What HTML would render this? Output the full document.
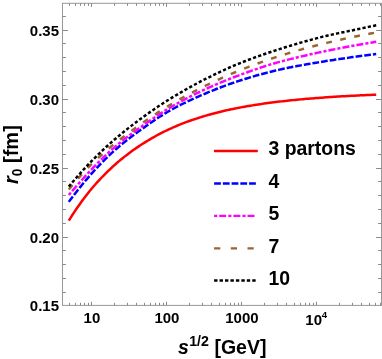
<!DOCTYPE html>
<html><head><meta charset="utf-8"><style>
html,body{margin:0;padding:0;background:#fff;}
svg{display:block;will-change:transform;font-family:"Liberation Sans",sans-serif;font-weight:bold;}
</style></head><body>
<svg width="382" height="359" viewBox="0 0 382 359">
<g fill="none" stroke-width="2.5">
<path d="M68.80,220.64 L70.73,217.55 L72.67,214.54 L74.60,211.61 L76.53,208.74 L78.47,205.95 L80.40,203.22 L82.33,200.56 L84.27,197.96 L86.20,195.43 L88.13,192.97 L90.07,190.57 L92.00,188.25 L93.93,185.99 L95.87,183.78 L97.80,181.64 L99.73,179.54 L101.67,177.50 L103.60,175.51 L105.53,173.57 L107.47,171.66 L109.40,169.80 L111.33,167.98 L113.27,166.20 L115.20,164.46 L117.13,162.77 L119.07,161.11 L121.00,159.50 L122.93,157.93 L124.87,156.39 L126.80,154.89 L128.73,153.42 L130.67,151.99 L132.60,150.59 L134.53,149.23 L136.47,147.89 L138.40,146.59 L140.33,145.31 L142.27,144.06 L144.20,142.84 L146.13,141.64 L148.07,140.46 L150.00,139.31 L151.93,138.19 L153.87,137.09 L155.80,136.01 L157.73,134.96 L159.67,133.93 L161.60,132.93 L163.53,131.95 L165.47,131.00 L167.40,130.07 L169.33,129.16 L171.27,128.28 L173.20,127.42 L175.13,126.58 L177.07,125.76 L179.00,124.96 L180.93,124.18 L182.87,123.42 L184.80,122.67 L186.73,121.94 L188.67,121.23 L190.60,120.54 L192.53,119.87 L194.47,119.21 L196.40,118.57 L198.33,117.94 L200.27,117.33 L202.20,116.73 L204.13,116.15 L206.07,115.58 L208.00,115.03 L209.93,114.49 L211.87,113.96 L213.80,113.44 L215.73,112.94 L217.67,112.44 L219.60,111.96 L221.53,111.49 L223.47,111.04 L225.40,110.59 L227.33,110.15 L229.27,109.73 L231.20,109.31 L233.13,108.91 L235.07,108.51 L237.00,108.13 L238.93,107.75 L240.87,107.39 L242.80,107.03 L244.73,106.68 L246.67,106.34 L248.60,106.00 L250.53,105.68 L252.47,105.36 L254.40,105.05 L256.33,104.74 L258.27,104.45 L260.20,104.16 L262.13,103.87 L264.07,103.60 L266.00,103.33 L267.93,103.06 L269.87,102.80 L271.80,102.55 L273.73,102.30 L275.67,102.06 L277.60,101.83 L279.53,101.60 L281.47,101.37 L283.40,101.15 L285.33,100.94 L287.27,100.73 L289.20,100.52 L291.13,100.32 L293.07,100.12 L295.00,99.93 L296.93,99.74 L298.87,99.56 L300.80,99.38 L302.73,99.20 L304.67,99.03 L306.60,98.86 L308.53,98.69 L310.47,98.53 L312.40,98.38 L314.33,98.22 L316.27,98.07 L318.20,97.92 L320.13,97.78 L322.07,97.64 L324.00,97.50 L325.93,97.36 L327.87,97.23 L329.80,97.10 L331.73,96.97 L333.67,96.85 L335.60,96.73 L337.53,96.61 L339.47,96.49 L341.40,96.37 L343.33,96.26 L345.27,96.15 L347.20,96.04 L349.13,95.94 L351.07,95.84 L353.00,95.73 L354.93,95.63 L356.87,95.54 L358.80,95.44 L360.73,95.35 L362.67,95.26 L364.60,95.17 L366.53,95.08 L368.47,94.99 L370.40,94.91 L372.33,94.82 L374.27,94.74 L376.20,94.66" stroke="#ff0000"/>
<path d="M68.80,201.88 L70.73,199.26 L72.67,196.70 L74.60,194.18 L76.53,191.70 L78.47,189.26 L80.40,186.86 L82.33,184.49 L84.27,182.16 L86.20,179.85 L88.13,177.58 L90.07,175.35 L92.00,173.17 L93.93,171.02 L95.87,168.91 L97.80,166.83 L99.73,164.80 L101.67,162.80 L103.60,160.85 L105.53,158.92 L107.47,157.04 L109.40,155.19 L111.33,153.38 L113.27,151.61 L115.20,149.88 L117.13,148.19 L119.07,146.53 L121.00,144.91 L122.93,143.32 L124.87,141.76 L126.80,140.23 L128.73,138.72 L130.67,137.24 L132.60,135.78 L134.53,134.34 L136.47,132.93 L138.40,131.52 L140.33,130.14 L142.27,128.76 L144.20,127.38 L146.13,126.02 L148.07,124.66 L150.00,123.31 L151.93,121.97 L153.87,120.66 L155.80,119.35 L157.73,118.07 L159.67,116.81 L161.60,115.58 L163.53,114.37 L165.47,113.18 L167.40,112.03 L169.33,110.92 L171.27,109.83 L173.20,108.77 L175.13,107.73 L177.07,106.70 L179.00,105.70 L180.93,104.72 L182.87,103.75 L184.80,102.80 L186.73,101.87 L188.67,100.95 L190.60,100.04 L192.53,99.15 L194.47,98.27 L196.40,97.41 L198.33,96.55 L200.27,95.71 L202.20,94.87 L204.13,94.05 L206.07,93.23 L208.00,92.42 L209.93,91.62 L211.87,90.83 L213.80,90.05 L215.73,89.28 L217.67,88.52 L219.60,87.77 L221.53,87.03 L223.47,86.30 L225.40,85.58 L227.33,84.88 L229.27,84.18 L231.20,83.50 L233.13,82.83 L235.07,82.17 L237.00,81.52 L238.93,80.89 L240.87,80.27 L242.80,79.65 L244.73,79.04 L246.67,78.45 L248.60,77.85 L250.53,77.27 L252.47,76.70 L254.40,76.13 L256.33,75.57 L258.27,75.02 L260.20,74.48 L262.13,73.95 L264.07,73.43 L266.00,72.92 L267.93,72.42 L269.87,71.92 L271.80,71.44 L273.73,70.97 L275.67,70.51 L277.60,70.07 L279.53,69.63 L281.47,69.20 L283.40,68.79 L285.33,68.38 L287.27,67.98 L289.20,67.59 L291.13,67.20 L293.07,66.82 L295.00,66.45 L296.93,66.09 L298.87,65.73 L300.80,65.37 L302.73,65.03 L304.67,64.68 L306.60,64.34 L308.53,64.01 L310.47,63.67 L312.40,63.34 L314.33,63.02 L316.27,62.69 L318.20,62.37 L320.13,62.05 L322.07,61.73 L324.00,61.42 L325.93,61.10 L327.87,60.80 L329.80,60.49 L331.73,60.19 L333.67,59.90 L335.60,59.60 L337.53,59.31 L339.47,59.02 L341.40,58.74 L343.33,58.45 L345.27,58.17 L347.20,57.90 L349.13,57.62 L351.07,57.35 L353.00,57.08 L354.93,56.81 L356.87,56.55 L358.80,56.28 L360.73,56.02 L362.67,55.76 L364.60,55.51 L366.53,55.25 L368.47,55.00 L370.40,54.75 L372.33,54.50 L374.27,54.26 L376.20,54.02" stroke="#0000ff" stroke-dasharray="6.750,1.982"/>
<path d="M68.80,195.03 L70.73,192.72 L72.67,190.45 L74.60,188.22 L76.53,186.01 L78.47,183.83 L80.40,181.66 L82.33,179.50 L84.27,177.35 L86.20,175.20 L88.13,173.07 L90.07,170.98 L92.00,168.92 L93.93,166.89 L95.87,164.89 L97.80,162.92 L99.73,160.98 L101.67,159.07 L103.60,157.20 L105.53,155.36 L107.47,153.55 L109.40,151.77 L111.33,150.03 L113.27,148.33 L115.20,146.66 L117.13,145.04 L119.07,143.44 L121.00,141.88 L122.93,140.34 L124.87,138.83 L126.80,137.34 L128.73,135.88 L130.67,134.43 L132.60,133.00 L134.53,131.58 L136.47,130.17 L138.40,128.78 L140.33,127.39 L142.27,126.00 L144.20,124.63 L146.13,123.26 L148.07,121.91 L150.00,120.57 L151.93,119.24 L153.87,117.93 L155.80,116.63 L157.73,115.34 L159.67,114.08 L161.60,112.83 L163.53,111.60 L165.47,110.39 L167.40,109.20 L169.33,108.04 L171.27,106.89 L173.20,105.77 L175.13,104.66 L177.07,103.57 L179.00,102.49 L180.93,101.43 L182.87,100.38 L184.80,99.35 L186.73,98.33 L188.67,97.33 L190.60,96.34 L192.53,95.36 L194.47,94.40 L196.40,93.45 L198.33,92.51 L200.27,91.58 L202.20,90.67 L204.13,89.76 L206.07,88.87 L208.00,87.99 L209.93,87.12 L211.87,86.27 L213.80,85.42 L215.73,84.59 L217.67,83.76 L219.60,82.95 L221.53,82.14 L223.47,81.35 L225.40,80.56 L227.33,79.79 L229.27,79.02 L231.20,78.27 L233.13,77.52 L235.07,76.78 L237.00,76.05 L238.93,75.33 L240.87,74.62 L242.80,73.91 L244.73,73.20 L246.67,72.50 L248.60,71.80 L250.53,71.11 L252.47,70.43 L254.40,69.75 L256.33,69.08 L258.27,68.42 L260.20,67.77 L262.13,67.13 L264.07,66.50 L266.00,65.88 L267.93,65.27 L269.87,64.67 L271.80,64.09 L273.73,63.52 L275.67,62.96 L277.60,62.42 L279.53,61.89 L281.47,61.38 L283.40,60.87 L285.33,60.37 L287.27,59.88 L289.20,59.39 L291.13,58.90 L293.07,58.43 L295.00,57.95 L296.93,57.48 L298.87,57.02 L300.80,56.56 L302.73,56.11 L304.67,55.66 L306.60,55.22 L308.53,54.78 L310.47,54.34 L312.40,53.91 L314.33,53.49 L316.27,53.07 L318.20,52.65 L320.13,52.24 L322.07,51.83 L324.00,51.42 L325.93,51.02 L327.87,50.63 L329.80,50.23 L331.73,49.84 L333.67,49.46 L335.60,49.07 L337.53,48.70 L339.47,48.32 L341.40,47.95 L343.33,47.58 L345.27,47.22 L347.20,46.85 L349.13,46.50 L351.07,46.14 L353.00,45.79 L354.93,45.44 L356.87,45.09 L358.80,44.75 L360.73,44.41 L362.67,44.07 L364.60,43.73 L366.53,43.40 L368.47,43.07 L370.40,42.75 L372.33,42.42 L374.27,42.10 L376.20,41.78" stroke="#ff00ff" stroke-dasharray="3.149,1.999,7.049,2.020"/>
<path d="M68.80,189.53 L70.73,187.18 L72.67,184.87 L74.60,182.59 L76.53,180.34 L78.47,178.12 L80.40,175.94 L82.33,173.79 L84.27,171.68 L86.20,169.59 L88.13,167.57 L90.07,165.60 L92.00,163.69 L93.93,161.82 L95.87,159.99 L97.80,158.20 L99.73,156.45 L101.67,154.72 L103.60,153.03 L105.53,151.35 L107.47,149.69 L109.40,148.04 L111.33,146.41 L113.27,144.82 L115.20,143.25 L117.13,141.71 L119.07,140.20 L121.00,138.71 L122.93,137.24 L124.87,135.79 L126.80,134.35 L128.73,132.93 L130.67,131.52 L132.60,130.12 L134.53,128.73 L136.47,127.33 L138.40,125.94 L140.33,124.55 L142.27,123.17 L144.20,121.80 L146.13,120.45 L148.07,119.11 L150.00,117.79 L151.93,116.49 L153.87,115.20 L155.80,113.92 L157.73,112.66 L159.67,111.41 L161.60,110.18 L163.53,108.97 L165.47,107.77 L167.40,106.59 L169.33,105.42 L171.27,104.27 L173.20,103.12 L175.13,101.99 L177.07,100.87 L179.00,99.77 L180.93,98.67 L182.87,97.59 L184.80,96.51 L186.73,95.45 L188.67,94.40 L190.60,93.36 L192.53,92.34 L194.47,91.32 L196.40,90.32 L198.33,89.33 L200.27,88.34 L202.20,87.37 L204.13,86.41 L206.07,85.46 L208.00,84.51 L209.93,83.58 L211.87,82.65 L213.80,81.73 L215.73,80.82 L217.67,79.92 L219.60,79.03 L221.53,78.14 L223.47,77.27 L225.40,76.41 L227.33,75.56 L229.27,74.72 L231.20,73.88 L233.13,73.06 L235.07,72.25 L237.00,71.45 L238.93,70.66 L240.87,69.88 L242.80,69.12 L244.73,68.35 L246.67,67.60 L248.60,66.86 L250.53,66.12 L252.47,65.39 L254.40,64.67 L256.33,63.96 L258.27,63.26 L260.20,62.56 L262.13,61.87 L264.07,61.19 L266.00,60.52 L267.93,59.86 L269.87,59.20 L271.80,58.55 L273.73,57.91 L275.67,57.27 L277.60,56.65 L279.53,56.03 L281.47,55.42 L283.40,54.81 L285.33,54.21 L287.27,53.61 L289.20,53.02 L291.13,52.44 L293.07,51.86 L295.00,51.29 L296.93,50.72 L298.87,50.16 L300.80,49.61 L302.73,49.06 L304.67,48.52 L306.60,47.99 L308.53,47.46 L310.47,46.94 L312.40,46.43 L314.33,45.93 L316.27,45.43 L318.20,44.95 L320.13,44.47 L322.07,43.99 L324.00,43.53 L325.93,43.06 L327.87,42.60 L329.80,42.15 L331.73,41.69 L333.67,41.25 L335.60,40.80 L337.53,40.37 L339.47,39.93 L341.40,39.50 L343.33,39.07 L345.27,38.65 L347.20,38.23 L349.13,37.82 L351.07,37.40 L353.00,37.00 L354.93,36.59 L356.87,36.19 L358.80,35.80 L360.73,35.40 L362.67,35.02 L364.60,34.64 L366.53,34.26 L368.47,33.90 L370.40,33.53 L372.33,33.17 L374.27,32.82 L376.20,32.46" stroke="#996633" stroke-dasharray="5.800,8.547"/>
<path d="M68.80,186.65 L70.73,184.31 L72.67,182.00 L74.60,179.72 L76.53,177.48 L78.47,175.27 L80.40,173.09 L82.33,170.95 L84.27,168.84 L86.20,166.75 L88.13,164.71 L90.07,162.69 L92.00,160.70 L93.93,158.74 L95.87,156.81 L97.80,154.90 L99.73,153.03 L101.67,151.18 L103.60,149.36 L105.53,147.56 L107.47,145.78 L109.40,144.03 L111.33,142.31 L113.27,140.61 L115.20,138.94 L117.13,137.29 L119.07,135.67 L121.00,134.06 L122.93,132.49 L124.87,130.93 L126.80,129.39 L128.73,127.87 L130.67,126.37 L132.60,124.88 L134.53,123.41 L136.47,121.96 L138.40,120.52 L140.33,119.09 L142.27,117.67 L144.20,116.27 L146.13,114.88 L148.07,113.50 L150.00,112.14 L151.93,110.79 L153.87,109.45 L155.80,108.13 L157.73,106.83 L159.67,105.53 L161.60,104.26 L163.53,103.00 L165.47,101.75 L167.40,100.53 L169.33,99.32 L171.27,98.12 L173.20,96.94 L175.13,95.77 L177.07,94.62 L179.00,93.47 L180.93,92.34 L182.87,91.22 L184.80,90.11 L186.73,89.02 L188.67,87.94 L190.60,86.87 L192.53,85.81 L194.47,84.76 L196.40,83.73 L198.33,82.71 L200.27,81.70 L202.20,80.69 L204.13,79.70 L206.07,78.72 L208.00,77.74 L209.93,76.77 L211.87,75.81 L213.80,74.86 L215.73,73.92 L217.67,72.99 L219.60,72.08 L221.53,71.17 L223.47,70.27 L225.40,69.39 L227.33,68.52 L229.27,67.66 L231.20,66.81 L233.13,65.98 L235.07,65.16 L237.00,64.36 L238.93,63.57 L240.87,62.79 L242.80,62.03 L244.73,61.27 L246.67,60.53 L248.60,59.79 L250.53,59.07 L252.47,58.35 L254.40,57.64 L256.33,56.94 L258.27,56.25 L260.20,55.56 L262.13,54.88 L264.07,54.21 L266.00,53.55 L267.93,52.89 L269.87,52.25 L271.80,51.60 L273.73,50.97 L275.67,50.34 L277.60,49.71 L279.53,49.09 L281.47,48.48 L283.40,47.87 L285.33,47.27 L287.27,46.67 L289.20,46.08 L291.13,45.49 L293.07,44.91 L295.00,44.33 L296.93,43.76 L298.87,43.20 L300.80,42.64 L302.73,42.08 L304.67,41.53 L306.60,40.99 L308.53,40.46 L310.47,39.93 L312.40,39.40 L314.33,38.89 L316.27,38.38 L318.20,37.87 L320.13,37.38 L322.07,36.89 L324.00,36.42 L325.93,35.96 L327.87,35.51 L329.80,35.06 L331.73,34.63 L333.67,34.21 L335.60,33.79 L337.53,33.38 L339.47,32.97 L341.40,32.57 L343.33,32.17 L345.27,31.77 L347.20,31.38 L349.13,30.98 L351.07,30.58 L353.00,30.18 L354.93,29.78 L356.87,29.37 L358.80,28.96 L360.73,28.54 L362.67,28.12 L364.60,27.71 L366.53,27.29 L368.47,26.89 L370.40,26.48 L372.33,26.08 L374.27,25.68 L376.20,25.28" stroke="#000" stroke-dasharray="3.246,2.164"/>
</g>
<rect x="62.5" y="3.3" width="319.0" height="302.09999999999997" fill="none" stroke="#989898" stroke-width="1"/>
<g stroke="#8a8a8a" stroke-width="1"><line x1="62.5" y1="292.5" x2="65.9" y2="292.5"/><line x1="381.5" y1="292.5" x2="378.1" y2="292.5"/><line x1="62.5" y1="278.5" x2="65.9" y2="278.5"/><line x1="381.5" y1="278.5" x2="378.1" y2="278.5"/><line x1="62.5" y1="264.5" x2="65.9" y2="264.5"/><line x1="381.5" y1="264.5" x2="378.1" y2="264.5"/><line x1="62.5" y1="250.5" x2="65.9" y2="250.5"/><line x1="381.5" y1="250.5" x2="378.1" y2="250.5"/><line x1="62.5" y1="237.5" x2="67.9" y2="237.5"/><line x1="381.5" y1="237.5" x2="376.1" y2="237.5"/><line x1="62.5" y1="223.5" x2="65.9" y2="223.5"/><line x1="381.5" y1="223.5" x2="378.1" y2="223.5"/><line x1="62.5" y1="209.5" x2="65.9" y2="209.5"/><line x1="381.5" y1="209.5" x2="378.1" y2="209.5"/><line x1="62.5" y1="195.5" x2="65.9" y2="195.5"/><line x1="381.5" y1="195.5" x2="378.1" y2="195.5"/><line x1="62.5" y1="181.5" x2="65.9" y2="181.5"/><line x1="381.5" y1="181.5" x2="378.1" y2="181.5"/><line x1="62.5" y1="168.5" x2="67.9" y2="168.5"/><line x1="381.5" y1="168.5" x2="376.1" y2="168.5"/><line x1="62.5" y1="154.5" x2="65.9" y2="154.5"/><line x1="381.5" y1="154.5" x2="378.1" y2="154.5"/><line x1="62.5" y1="140.5" x2="65.9" y2="140.5"/><line x1="381.5" y1="140.5" x2="378.1" y2="140.5"/><line x1="62.5" y1="126.5" x2="65.9" y2="126.5"/><line x1="381.5" y1="126.5" x2="378.1" y2="126.5"/><line x1="62.5" y1="112.5" x2="65.9" y2="112.5"/><line x1="381.5" y1="112.5" x2="378.1" y2="112.5"/><line x1="62.5" y1="99.5" x2="67.9" y2="99.5"/><line x1="381.5" y1="99.5" x2="376.1" y2="99.5"/><line x1="62.5" y1="85.5" x2="65.9" y2="85.5"/><line x1="381.5" y1="85.5" x2="378.1" y2="85.5"/><line x1="62.5" y1="71.5" x2="65.9" y2="71.5"/><line x1="381.5" y1="71.5" x2="378.1" y2="71.5"/><line x1="62.5" y1="57.5" x2="65.9" y2="57.5"/><line x1="381.5" y1="57.5" x2="378.1" y2="57.5"/><line x1="62.5" y1="43.5" x2="65.9" y2="43.5"/><line x1="381.5" y1="43.5" x2="378.1" y2="43.5"/><line x1="62.5" y1="30.5" x2="67.9" y2="30.5"/><line x1="381.5" y1="30.5" x2="376.1" y2="30.5"/><line x1="62.5" y1="16.5" x2="65.9" y2="16.5"/><line x1="381.5" y1="16.5" x2="378.1" y2="16.5"/><line x1="69.5" y1="305.4" x2="69.5" y2="302.79999999999995"/><line x1="69.5" y1="3.3" x2="69.5" y2="5.9"/><line x1="75.5" y1="305.4" x2="75.5" y2="302.79999999999995"/><line x1="75.5" y1="3.3" x2="75.5" y2="5.9"/><line x1="80.5" y1="305.4" x2="80.5" y2="302.79999999999995"/><line x1="80.5" y1="3.3" x2="80.5" y2="5.9"/><line x1="84.5" y1="305.4" x2="84.5" y2="302.79999999999995"/><line x1="84.5" y1="3.3" x2="84.5" y2="5.9"/><line x1="88.5" y1="305.4" x2="88.5" y2="302.79999999999995"/><line x1="88.5" y1="3.3" x2="88.5" y2="5.9"/><line x1="91.5" y1="305.4" x2="91.5" y2="301.79999999999995"/><line x1="91.5" y1="3.3" x2="91.5" y2="6.9"/><line x1="114.5" y1="305.4" x2="114.5" y2="302.79999999999995"/><line x1="114.5" y1="3.3" x2="114.5" y2="5.9"/><line x1="127.5" y1="305.4" x2="127.5" y2="302.79999999999995"/><line x1="127.5" y1="3.3" x2="127.5" y2="5.9"/><line x1="136.5" y1="305.4" x2="136.5" y2="302.79999999999995"/><line x1="136.5" y1="3.3" x2="136.5" y2="5.9"/><line x1="144.5" y1="305.4" x2="144.5" y2="302.79999999999995"/><line x1="144.5" y1="3.3" x2="144.5" y2="5.9"/><line x1="150.5" y1="305.4" x2="150.5" y2="302.79999999999995"/><line x1="150.5" y1="3.3" x2="150.5" y2="5.9"/><line x1="155.5" y1="305.4" x2="155.5" y2="302.79999999999995"/><line x1="155.5" y1="3.3" x2="155.5" y2="5.9"/><line x1="159.5" y1="305.4" x2="159.5" y2="302.79999999999995"/><line x1="159.5" y1="3.3" x2="159.5" y2="5.9"/><line x1="163.5" y1="305.4" x2="163.5" y2="302.79999999999995"/><line x1="163.5" y1="3.3" x2="163.5" y2="5.9"/><line x1="166.5" y1="305.4" x2="166.5" y2="301.79999999999995"/><line x1="166.5" y1="3.3" x2="166.5" y2="6.9"/><line x1="189.5" y1="305.4" x2="189.5" y2="302.79999999999995"/><line x1="189.5" y1="3.3" x2="189.5" y2="5.9"/><line x1="202.5" y1="305.4" x2="202.5" y2="302.79999999999995"/><line x1="202.5" y1="3.3" x2="202.5" y2="5.9"/><line x1="211.5" y1="305.4" x2="211.5" y2="302.79999999999995"/><line x1="211.5" y1="3.3" x2="211.5" y2="5.9"/><line x1="219.5" y1="305.4" x2="219.5" y2="302.79999999999995"/><line x1="219.5" y1="3.3" x2="219.5" y2="5.9"/><line x1="225.5" y1="305.4" x2="225.5" y2="302.79999999999995"/><line x1="225.5" y1="3.3" x2="225.5" y2="5.9"/><line x1="230.5" y1="305.4" x2="230.5" y2="302.79999999999995"/><line x1="230.5" y1="3.3" x2="230.5" y2="5.9"/><line x1="234.5" y1="305.4" x2="234.5" y2="302.79999999999995"/><line x1="234.5" y1="3.3" x2="234.5" y2="5.9"/><line x1="238.5" y1="305.4" x2="238.5" y2="302.79999999999995"/><line x1="238.5" y1="3.3" x2="238.5" y2="5.9"/><line x1="241.5" y1="305.4" x2="241.5" y2="301.79999999999995"/><line x1="241.5" y1="3.3" x2="241.5" y2="6.9"/><line x1="264.5" y1="305.4" x2="264.5" y2="302.79999999999995"/><line x1="264.5" y1="3.3" x2="264.5" y2="5.9"/><line x1="277.5" y1="305.4" x2="277.5" y2="302.79999999999995"/><line x1="277.5" y1="3.3" x2="277.5" y2="5.9"/><line x1="286.5" y1="305.4" x2="286.5" y2="302.79999999999995"/><line x1="286.5" y1="3.3" x2="286.5" y2="5.9"/><line x1="294.5" y1="305.4" x2="294.5" y2="302.79999999999995"/><line x1="294.5" y1="3.3" x2="294.5" y2="5.9"/><line x1="300.5" y1="305.4" x2="300.5" y2="302.79999999999995"/><line x1="300.5" y1="3.3" x2="300.5" y2="5.9"/><line x1="305.5" y1="305.4" x2="305.5" y2="302.79999999999995"/><line x1="305.5" y1="3.3" x2="305.5" y2="5.9"/><line x1="309.5" y1="305.4" x2="309.5" y2="302.79999999999995"/><line x1="309.5" y1="3.3" x2="309.5" y2="5.9"/><line x1="313.5" y1="305.4" x2="313.5" y2="302.79999999999995"/><line x1="313.5" y1="3.3" x2="313.5" y2="5.9"/><line x1="316.5" y1="305.4" x2="316.5" y2="301.79999999999995"/><line x1="316.5" y1="3.3" x2="316.5" y2="6.9"/><line x1="339.5" y1="305.4" x2="339.5" y2="302.79999999999995"/><line x1="339.5" y1="3.3" x2="339.5" y2="5.9"/><line x1="352.5" y1="305.4" x2="352.5" y2="302.79999999999995"/><line x1="352.5" y1="3.3" x2="352.5" y2="5.9"/><line x1="361.5" y1="305.4" x2="361.5" y2="302.79999999999995"/><line x1="361.5" y1="3.3" x2="361.5" y2="5.9"/><line x1="369.5" y1="305.4" x2="369.5" y2="302.79999999999995"/><line x1="369.5" y1="3.3" x2="369.5" y2="5.9"/><line x1="375.5" y1="305.4" x2="375.5" y2="302.79999999999995"/><line x1="375.5" y1="3.3" x2="375.5" y2="5.9"/><line x1="380.5" y1="305.4" x2="380.5" y2="302.79999999999995"/><line x1="380.5" y1="3.3" x2="380.5" y2="5.9"/></g>
<g font-size="15" fill="#000"><text x="59" y="311.3" text-anchor="end">0.15</text><text x="59" y="242.5" text-anchor="end">0.20</text><text x="59" y="173.5" text-anchor="end">0.25</text><text x="59" y="104.5" text-anchor="end">0.30</text><text x="59" y="35.5" text-anchor="end">0.35</text><text x="91.9" y="322.7" text-anchor="middle">10</text><text x="166.9" y="322.7" text-anchor="middle">100</text><text x="241.9" y="322.7" text-anchor="middle">1000</text><text x="305.3" y="324.5">10<tspan dy="-6.3" dx="-0.3" font-size="9.6">4</tspan></text></g>
<g fill="none" stroke-width="2.3">
<line x1="214" y1="151" x2="257.8" y2="151" stroke="#ff0000"/>
<line x1="214.1" y1="183.5" x2="256.2" y2="183.5" stroke="#0000ff" stroke-dasharray="6.8,1.94"/>
<line x1="214.1" y1="215.8" x2="254.8" y2="215.8" stroke="#ff00ff" stroke-dasharray="3.2,1.9,7,2.05"/>
<line x1="214.1" y1="248.4" x2="256" y2="248.4" stroke="#996633" stroke-dasharray="6.2,10.5"/>
<line x1="214.1" y1="280.5" x2="256" y2="280.5" stroke="#000" stroke-dasharray="3.4,2.05"/>
</g>
<g font-size="19.4" fill="#000">
<text x="268.5" y="154.9">3 partons</text>
<text x="268.5" y="187.8">4</text>
<text x="268.5" y="220.4">5</text>
<text x="268.5" y="252.8">7</text>
<text x="268.5" y="284.5">10</text>
</g>
<text x="222.2" y="353.8" font-size="19.5" text-anchor="middle"><tspan font-style="italic">s</tspan><tspan dy="-8.1" dx="0.4" font-size="14.2">1/2</tspan><tspan dy="8.1" dx="0.1"> [GeV]</tspan></text>
<text transform="translate(18.4,154.6) rotate(-90)" font-size="20" text-anchor="middle"><tspan font-style="italic">r</tspan><tspan dy="4" font-size="13.8">0</tspan><tspan dy="-4"> [fm]</tspan></text>
</svg>
</body></html>
